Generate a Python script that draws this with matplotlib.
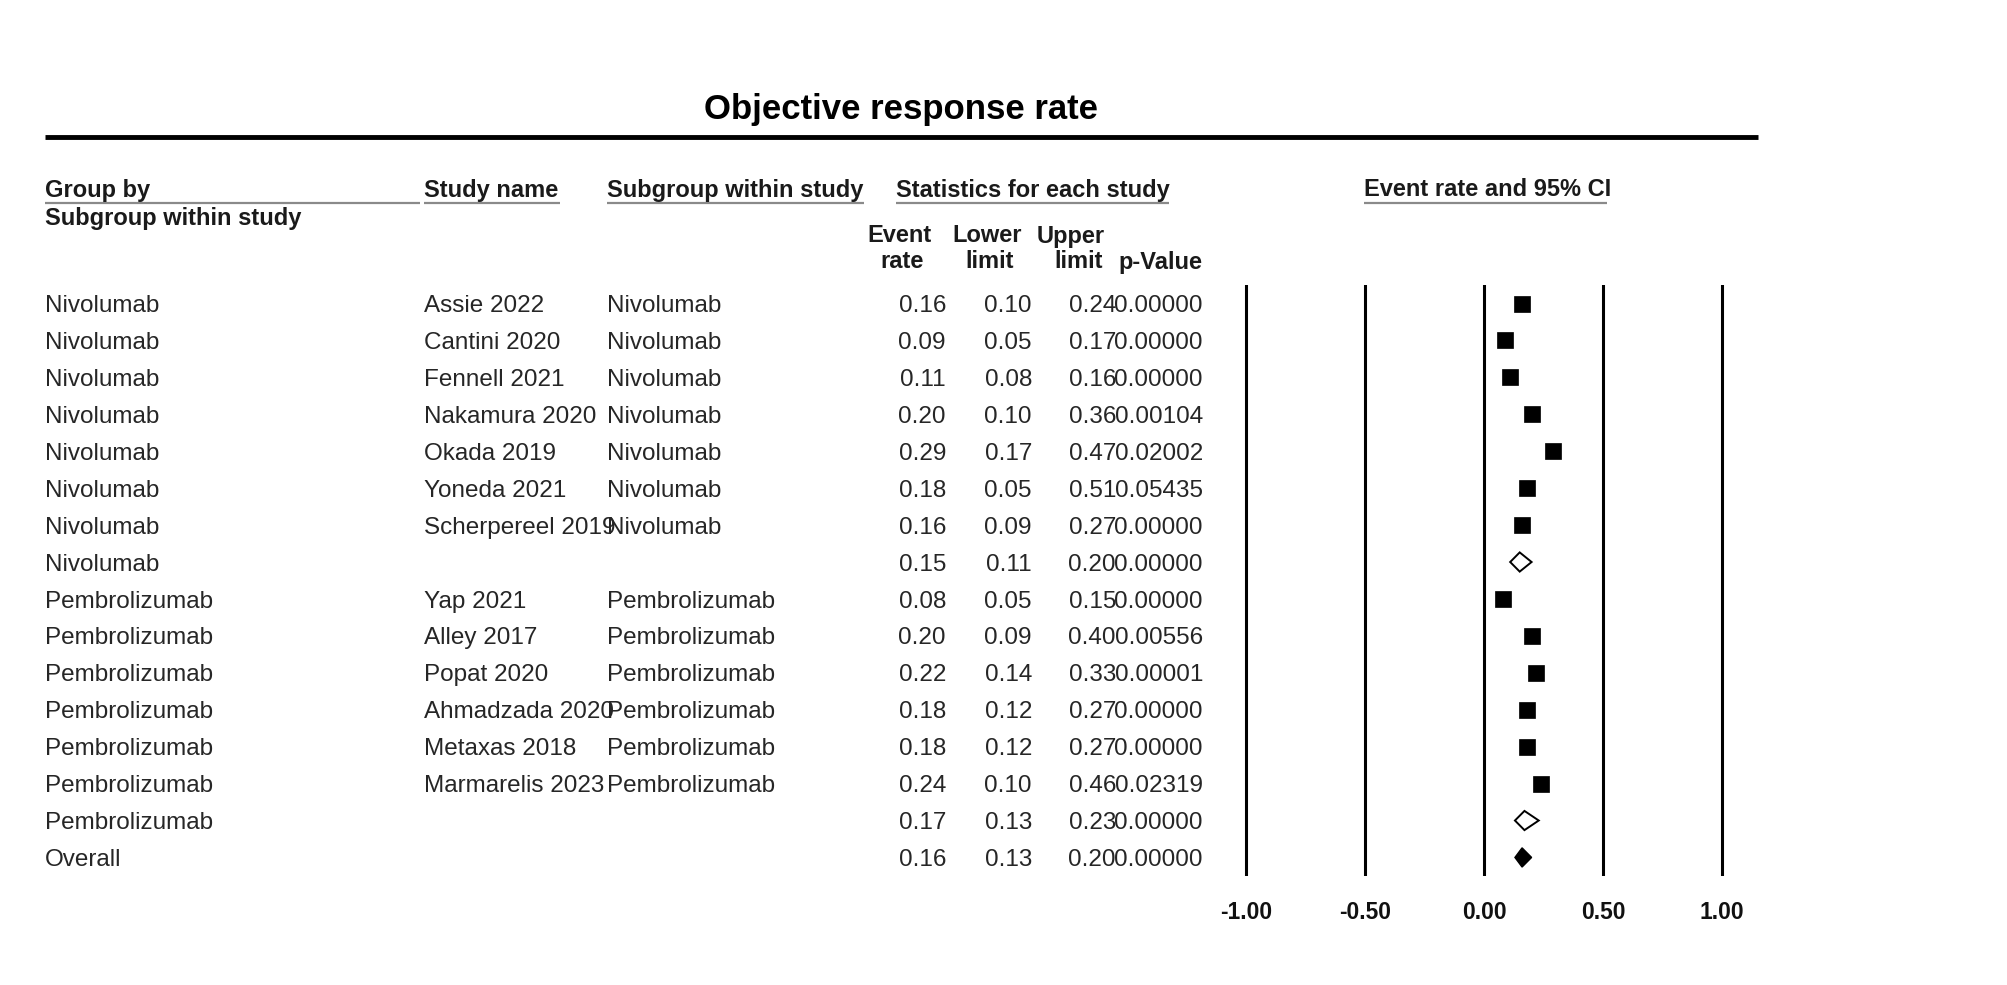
import matplotlib
matplotlib.use('Agg')
import matplotlib.pyplot as plt
from matplotlib import transforms

# ---------------- data ----------------
groups = ['Nivolumab'] * 8 + ['Pembrolizumab'] * 7 + ['Overall']
studies = ['Assie 2022', 'Cantini 2020', 'Fennell 2021', 'Nakamura 2020', 'Okada 2019',
           'Yoneda 2021', 'Scherpereel 2019', '',
           'Yap 2021', 'Alley 2017', 'Popat 2020', 'Ahmadzada 2020', 'Metaxas 2018',
           'Marmarelis 2023', '', '']
subgroups = ['Nivolumab'] * 7 + [''] + ['Pembrolizumab'] * 6 + ['', '']
event_rate = [0.16, 0.09, 0.11, 0.20, 0.29, 0.18, 0.16, 0.15,
              0.08, 0.20, 0.22, 0.18, 0.18, 0.24, 0.17, 0.16]
lower_limit = [0.10, 0.05, 0.08, 0.10, 0.17, 0.05, 0.09, 0.11,
               0.05, 0.09, 0.14, 0.12, 0.12, 0.10, 0.13, 0.13]
upper_limit = [0.24, 0.17, 0.16, 0.36, 0.47, 0.51, 0.27, 0.20,
               0.15, 0.40, 0.33, 0.27, 0.27, 0.46, 0.23, 0.20]
p_values = ['0.00000', '0.00000', '0.00000', '0.00104', '0.02002', '0.05435', '0.00000',
            '0.00000', '0.00000', '0.00556', '0.00001', '0.00000', '0.00000', '0.02319',
            '0.00000', '0.00000']
row_kind = ['study'] * 7 + ['subtotal'] + ['study'] * 6 + ['subtotal', 'overall']
x_ticks = [-1.0, -0.5, 0.0, 0.5, 1.0]
x_tick_labels = ['-1.00', '-0.50', '0.00', '0.50', '1.00']
title = 'Objective response rate'

# ---------------- figure ----------------
W, H = 2008, 985
plt.rcParams['font.family'] = ['Liberation Sans', 'DejaVu Sans']
fig = plt.figure(figsize=(W / 100, H / 100), dpi=100)
fig.patch.set_facecolor('white')

bg = fig.add_axes([0, 0, 1, 1])
bg.set_xlim(0, W)
bg.set_ylim(H, 0)
bg.axis('off')

# forest axes (pixel geometry)
px_per_unit = 238.0
x0_px = 1484.0
left_px = x0_px - 1.1 * px_per_unit
right_px = x0_px + 1.1 * px_per_unit
row0_px = 303.5
row_step = 36.93
n = len(event_rate)
top_px = row0_px - 0.5 * row_step
bot_px = row0_px + (n - 0.5) * row_step
ax = fig.add_axes([left_px / W, 1 - bot_px / H, (right_px - left_px) / W, (bot_px - top_px) / H])
ax.set_xlim(-1.1, 1.1)
ax.set_ylim(n - 0.5, -0.5)
ax.patch.set_alpha(0)
for s in ax.spines.values():
    s.set_visible(False)
ax.set_yticks([])
ax.set_xticks(x_ticks)
ax.set_xticklabels(x_tick_labels, fontsize=16.5, fontweight='bold', color='#111111')
ax.tick_params(axis='x', length=0, pad=17.8)

for t in x_ticks:
    ax.axvline(t, color='black', lw=2.2)

ys = list(range(n))
sq_x = [event_rate[i] for i in ys if row_kind[i] == 'study']
sq_y = [i for i in ys if row_kind[i] == 'study']
ax.plot(sq_x, sq_y, linestyle='none', marker='s', markersize=11.2,
        markerfacecolor='black', markeredgecolor='black', markeredgewidth=0.5)

h = 0.26
for i in ys:
    if row_kind[i] == 'study':
        continue
    xs = [lower_limit[i], event_rate[i], upper_limit[i], event_rate[i]]
    yy = [i, i - h, i, i + h]
    if row_kind[i] == 'subtotal':
        ax.fill(xs, yy, facecolor='white', edgecolor='black', lw=1.4, zorder=3)
    else:
        ax.fill(xs, yy, facecolor='black', edgecolor='black', lw=1.0, zorder=3)

# ---------------- text ----------------
trans = transforms.blended_transform_factory(bg.transData, ax.transData)
fs = 17.5
tcol = '#262626'
dy = 0.07
for i in ys:
    kw = dict(transform=trans, va='center', fontsize=fs, color=tcol, clip_on=False)
    yy = i + dy
    bg.text(45, yy, groups[i], ha='left', **kw)
    if studies[i]:
        bg.text(424, yy, studies[i], ha='left', **kw)
    if subgroups[i]:
        bg.text(607, yy, subgroups[i], ha='left', **kw)
    bg.text(946, yy, f'{event_rate[i]:.2f}', ha='right', **kw)
    bg.text(1032, yy, f'{lower_limit[i]:.2f}', ha='right', **kw)
    bg.text(1116, yy, f'{upper_limit[i]:.2f}', ha='right', **kw)
    bg.text(1203, yy, p_values[i], ha='right', **kw)

# title and rule
bg.text(901, 110, title, ha='center', va='center', fontsize=25, fontweight='bold', color='black')
bg.plot([45, 1758], [137, 137], color='black', lw=3.5, solid_capstyle='butt')

# headers
hk = dict(va='center', fontsize=17, fontweight='bold', color='#1a1a1a')
headers = [
    ('Group by', 45, 420),
    ('Study name', 424, 560),
    ('Subgroup within study', 607, 864),
    ('Statistics for each study', 896, 1169),
    ('Event rate and 95% CI', 1364, 1607),
]
for txt, x1, x2 in headers:
    bg.text(x1, 190, txt, ha='left', **hk)
    bg.plot([x1, x2], [203, 203], color='#8a8a8a', lw=1.6, solid_capstyle='butt')
bg.text(45, 218, 'Subgroup within study', ha='left', **hk)

col_heads = [('Event', 'rate', 900, 902), ('Lower', 'limit', 987, 990),
             ('Upper', 'limit', 1071, 1079), ('', 'p-Value', 0, 1160)]
for t1, t2, xa, xb in col_heads:
    if t1:
        bg.text(xa, 236, t1, ha='center', **hk)
    bg.text(xb, 262, t2, ha='center', **hk)

fig.savefig('out.png', dpi=100, facecolor='white')
